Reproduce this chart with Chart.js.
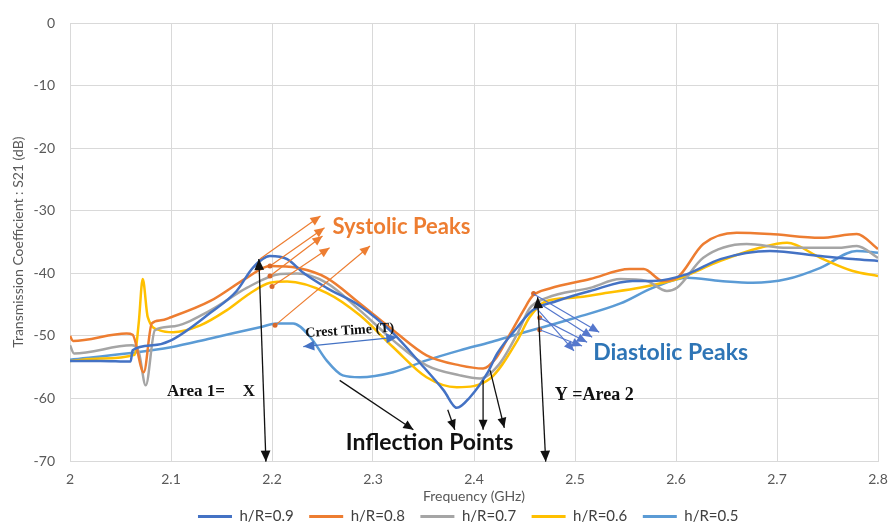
<!DOCTYPE html>
<html>
<head>
<meta charset="utf-8">
<script src="https://cdn.jsdelivr.net/npm/chart.js@4"></script>
<style>
  html, body { margin: 0; padding: 0; background: #fff; }
</style>
</head>
<body>
<canvas id="canvas" width="888" height="525"></canvas>
<script>
// h/R = 0.9
const freq09 = [2.00, 2.03, 2.060, 2.062, 2.082, 2.10, 2.139, 2.165, 2.181, 2.198, 2.215, 2.231, 2.254, 2.287, 2.32, 2.347, 2.37, 2.383, 2.396, 2.413, 2.423, 2.443, 2.458, 2.482, 2.515, 2.557, 2.577, 2.611, 2.644, 2.693, 2.743, 2.775, 2.80]
const s21_09 = [-54, -54, -54.1, -52.3, -51.5, -50.7, -46.3, -42.8, -39.1, -37.2, -37.7, -39.9, -42.3, -45.2, -49.6, -54.4, -58.7, -61.5, -59.8, -56, -52.8, -48.6, -45.9, -44.4, -42.8, -41.2, -41.2, -40.1, -37.7, -36.4, -37.2, -37.7, -38]
// h/R = 0.8
const freq08 = [2.00, 2.003, 2.056, 2.062, 2.073, 2.081, 2.09, 2.10, 2.139, 2.175, 2.198, 2.225, 2.254, 2.287, 2.32, 2.353, 2.386, 2.409, 2.422, 2.436, 2.449, 2.458, 2.475, 2.515, 2.554, 2.568, 2.587, 2.601, 2.627, 2.66, 2.693, 2.743, 2.779, 2.80]
const s21_08 = [-50, -50.8, -49.6, -49.8, -55.8, -48, -47.5, -47, -44.4, -40.7, -38.8, -39.1, -40.7, -44.8, -49.1, -53.1, -54.7, -55.2, -53.5, -49.6, -45.9, -43.6, -42.4, -40.9, -39.3, -39.3, -41.2, -40.7, -35.3, -33.5, -33.7, -34.3, -33.7, -36.1]
// h/R = 0.7
const freq07 = [2.00, 2.004, 2.061, 2.068, 2.075, 2.084, 2.10, 2.139, 2.175, 2.208, 2.225, 2.254, 2.287, 2.32, 2.353, 2.386, 2.406, 2.425, 2.443, 2.455, 2.472, 2.515, 2.545, 2.571, 2.591, 2.601, 2.627, 2.67, 2.71, 2.76, 2.779, 2.80]
const s21_07 = [-51.5, -52.8, -51.5, -52.5, -57.9, -49.1, -48.5, -45.9, -42.3, -40.1, -40, -41.5, -45.9, -50.7, -54.7, -56.3, -56.8, -54.5, -49.6, -45.6, -43.9, -42.3, -40.9, -41.2, -42.8, -42.3, -37.5, -35.3, -35.9, -35.9, -35.6, -37.5]
// h/R = 0.6
const freq06 = [2.00, 2.03, 2.064, 2.068, 2.072, 2.077, 2.089, 2.102, 2.129, 2.155, 2.178, 2.198, 2.215, 2.254, 2.287, 2.32, 2.353, 2.383, 2.416, 2.443, 2.455, 2.472, 2.498, 2.532, 2.564, 2.587, 2.601, 2.644, 2.683, 2.71, 2.743, 2.775, 2.80]
const s21_06 = [-54, -53.6, -53, -48, -40.9, -47, -49.1, -49.4, -48.3, -45.9, -43.2, -41.5, -41.3, -43.1, -46.7, -51.8, -56.6, -58.2, -56.8, -50.7, -47, -44.4, -43.9, -43.1, -42.3, -41.5, -40.9, -38, -35.9, -35.1, -37.5, -39.6, -40.4]
// h/R = 0.5
const freq05 = [2.00, 2.056, 2.10, 2.139, 2.188, 2.205, 2.221, 2.238, 2.254, 2.27, 2.287, 2.32, 2.353, 2.386, 2.416, 2.433, 2.498, 2.545, 2.577, 2.611, 2.644, 2.676, 2.71, 2.743, 2.779, 2.80]
const s21_05 = [-53.8, -52.8, -51.8, -50.4, -48.6, -48, -48, -50.2, -53.9, -56.3, -56.6, -55.8, -53.9, -52.3, -51, -50.2, -47.2, -44.8, -42.3, -40.7, -41.2, -41.5, -40.9, -39.1, -36.4, -36.7]

const xTicks = [2, 2.1, 2.2, 2.3, 2.4, 2.5, 2.6, 2.7, 2.8]
const yTicks = [0, -10, -20, -30, -40, -50, -60, -70]

// annotations, in data units [x1, y1, x2, y2]
const systolicArrows = [[2.188, -37.7, 2.248, -30.8], [2.198, -38.8, 2.252, -32.7], [2.198, -40.4, 2.250, -34.0], [2.200, -42.1, 2.257, -35.9], [2.203, -48.3, 2.297, -35.6]]
const systolicDots = [[2.198, -38.8], [2.198, -40.4], [2.200, -42.1], [2.203, -48.3]]
const diastolicArrows = [[2.459, -43.3, 2.524, -49.4], [2.463, -44.6, 2.517, -50.2], [2.465, -47.1, 2.512, -51.0], [2.465, -49.0, 2.507, -51.6], [2.462, -45.6, 2.499, -52.4]]
const diastolicDots = [[2.459, -43.2], [2.465, -47.1], [2.465, -49.0]]
const inflectionArrows = [[2.267, -57.1, 2.340, -65.0], [2.374, -61.8, 2.381, -65.0], [2.409, -57.1, 2.409, -65.0], [2.416, -55.5, 2.430, -64.7]]
const areaArrows = [[2.194, -70.1, 2.187, -37.7], [2.471, -70.1, 2.463, -43.8]]
const crestArrow = [2.231, -51.7, 2.324, -50.2]

const colors = ['#4472C4', '#ED7D31', '#A5A5A5', '#FFC000', '#5B9BD5']
const names = ['h/R=0.9', 'h/R=0.8', 'h/R=0.7', 'h/R=0.6', 'h/R=0.5']
const freqs = [freq09, freq08, freq07, freq06, freq05]
const values = [s21_09, s21_08, s21_07, s21_06, s21_05]

const datasets = names.map((n, i) => ({
  label: n,
  data: freqs[i].map((f, j) => ({ x: f, y: values[i][j] })),
  borderColor: colors[i],
  backgroundColor: colors[i],
  borderWidth: 2.5,
  pointRadius: 0,
  cubicInterpolationMode: 'monotone',
}))

function head(ctx, x1, y1, x2, y2, size) {
  const a = Math.atan2(y2 - y1, x2 - x1)
  ctx.beginPath()
  ctx.moveTo(x2, y2)
  ctx.lineTo(x2 - size * Math.cos(a - 0.42), y2 - size * Math.sin(a - 0.42))
  ctx.lineTo(x2 - size * Math.cos(a + 0.42), y2 - size * Math.sin(a + 0.42))
  ctx.closePath()
  ctx.fill()
}

function arrow(ctx, sx, sy, a, color, width, size, both) {
  const x1 = sx.getPixelForValue(a[0]), y1 = sy.getPixelForValue(a[1])
  const x2 = sx.getPixelForValue(a[2]), y2 = sy.getPixelForValue(a[3])
  ctx.strokeStyle = color
  ctx.fillStyle = color
  ctx.lineWidth = width
  ctx.beginPath()
  ctx.moveTo(x1, y1)
  ctx.lineTo(x2, y2)
  ctx.stroke()
  head(ctx, x1, y1, x2, y2, size)
  if (both) head(ctx, x2, y2, x1, y1, size)
}

function text(ctx, sx, sy, s, x, y, font, color, rot) {
  ctx.save()
  ctx.font = font
  ctx.fillStyle = color
  ctx.textBaseline = 'middle'
  ctx.textAlign = 'left'
  ctx.translate(sx.getPixelForValue(x), sy.getPixelForValue(y))
  if (rot) ctx.rotate(rot)
  ctx.fillText(s, 0, 0)
  ctx.restore()
}

const notes = {
  id: 'notes',
  afterDatasetsDraw(chart) {
    const ctx = chart.ctx
    const sx = chart.scales.x, sy = chart.scales.y
    ctx.save()
    systolicArrows.forEach(a => arrow(ctx, sx, sy, a, '#ED7D31', 1.2, 11, false))
    ctx.fillStyle = '#D9692A'
    systolicDots.concat(diastolicDots).forEach(d => {
      ctx.beginPath()
      ctx.arc(sx.getPixelForValue(d[0]), sy.getPixelForValue(d[1]), 2.5, 0, Math.PI * 2)
      ctx.fill()
    })
    diastolicArrows.forEach(a => arrow(ctx, sx, sy, a, '#5577CC', 1.2, 11, false))
    inflectionArrows.forEach(a => arrow(ctx, sx, sy, a, '#111', 1.3, 11, false))
    areaArrows.forEach(a => arrow(ctx, sx, sy, a, '#111', 1.3, 12, true))
    arrow(ctx, sx, sy, crestArrow, '#4472C4', 1.3, 12, true)

    text(ctx, sx, sy, 'Systolic Peaks', 2.26, -32.6, 'bold 22px Lato', '#ED7D31')
    text(ctx, sx, sy, 'Diastolic Peaks', 2.518, -52.6, 'bold 23px Lato', '#2E75B6')
    text(ctx, sx, sy, 'Inflection Points', 2.273, -67.0, 'bold 23px Lato', '#111')
    text(ctx, sx, sy, 'Area 1=', 2.096, -58.9, 'bold 17px "Liberation Serif"', '#111')
    text(ctx, sx, sy, 'X', 2.171, -58.9, 'bold 17px "Liberation Serif"', '#111')
    text(ctx, sx, sy, 'Y =Area 2', 2.48, -59.5, 'bold 18px "Liberation Serif"', '#111')
    text(ctx, sx, sy, 'Crest Time (T)', 2.233, -49.6, 'bold 14px "Liberation Serif"', '#111', -0.06)
    ctx.restore()
  }
}

const config = {
  type: 'line',
  data: { datasets: datasets },
  options: {
    responsive: false,
    animation: false,
    layout: { padding: { left: 0, right: 10, top: 14, bottom: 0 } },
    plugins: {
      legend: {
        position: 'bottom',
        fullSize: false,
        maxHeight: 20,
        labels: {
          usePointStyle: true,
          pointStyle: 'line',
          pointStyleWidth: 34,
          padding: 4,
          color: '#404040',
          font: { family: 'Lato', size: 15 },
          generateLabels: chart => Chart.defaults.plugins.legend.labels.generateLabels(chart).map(l => Object.assign(l, { text: l.text + '   ', lineWidth: 3 })),
        },
      },
      tooltip: { enabled: false },
    },
    scales: {
      x: {
        type: 'linear',
        min: 2,
        max: 2.8,
        afterBuildTicks: s => { s.ticks = xTicks.map(v => ({ value: v })) },
        afterFit: s => { s.height = 44; s.paddingRight = 0; s.paddingLeft = 0 },
        ticks: { color: '#595959', font: { family: 'Lato', size: 14 }, padding: 10, callback: v => String(Math.round(v * 10) / 10) },
        grid: { color: '#D9D9D9', drawTicks: false },
        border: { color: '#D9D9D9' },
        title: { display: true, text: 'Frequency (GHz)', color: '#595959', font: { family: 'Lato', size: 14 }, padding: 0 },
      },
      y: {
        min: -70,
        max: 0,
        afterBuildTicks: s => { s.ticks = yTicks.map(v => ({ value: v })) },
        afterFit: s => { s.width = 70 },
        ticks: { color: '#595959', font: { family: 'Lato', size: 14 }, padding: 15 },
        grid: { color: '#D9D9D9', drawTicks: false },
        border: { color: '#D9D9D9' },
        title: { display: true, text: 'Transmission Coefficient : S21 (dB)', color: '#595959', font: { family: 'Lato', size: 14 }, padding: { top: 10, bottom: 0 } },
      },
    },
  },
  plugins: [notes],
}

const canvas = document.getElementById('canvas')
const chart = new Chart(canvas, config)
</script>
</body>
</html>
